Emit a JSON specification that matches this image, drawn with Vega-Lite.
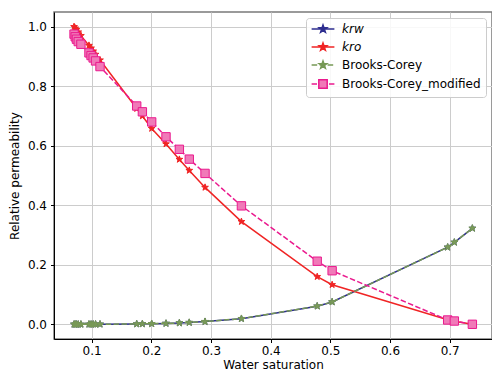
{
  "$schema": "https://vega.github.io/schema/vega-lite/v6.json",
  "autosize": "none",
  "padding": {"left": 54, "top": 12, "right": 0, "bottom": 37},
  "width": 438,
  "height": 327,
  "background": "white",
  "config": {
    "font": "DejaVu Sans",
    "view": {"stroke": "#7a7a7a", "strokeWidth": 1.5},
    "axis": {
      "domainColor": "#000000", "domainWidth": 1,
      "tickColor": "#000000", "tickSize": 3.5, "tickWidth": 1,
      "labelColor": "#000000", "labelFontSize": 12, "labelPadding": 3,
      "titleFontSize": 12, "titleFontWeight": "normal", "titleColor": "#000000",
      "gridColor": "#cccccc", "gridWidth": 1
    }
  },
  "datasets": {
    "d": [
      {"sw": 0.0705, "kr": 0, "series": "k_rw"},
      {"sw": 0.0725, "kr": 0, "series": "k_rw"},
      {"sw": 0.0745, "kr": 0, "series": "k_rw"},
      {"sw": 0.0775, "kr": 0, "series": "k_rw"},
      {"sw": 0.082, "kr": 0, "series": "k_rw"},
      {"sw": 0.0955, "kr": 0.0001, "series": "k_rw"},
      {"sw": 0.099, "kr": 0.0001, "series": "k_rw"},
      {"sw": 0.1025, "kr": 0.0002, "series": "k_rw"},
      {"sw": 0.1065, "kr": 0.0002, "series": "k_rw"},
      {"sw": 0.114, "kr": 0.0003, "series": "k_rw"},
      {"sw": 0.1755, "kr": 0.001, "series": "k_rw"},
      {"sw": 0.185, "kr": 0.0015, "series": "k_rw"},
      {"sw": 0.2006, "kr": 0.002, "series": "k_rw"},
      {"sw": 0.2246, "kr": 0.003, "series": "k_rw"},
      {"sw": 0.247, "kr": 0.0045, "series": "k_rw"},
      {"sw": 0.2636, "kr": 0.006, "series": "k_rw"},
      {"sw": 0.29, "kr": 0.009, "series": "k_rw"},
      {"sw": 0.351, "kr": 0.019, "series": "k_rw"},
      {"sw": 0.478, "kr": 0.061, "series": "k_rw"},
      {"sw": 0.503, "kr": 0.075, "series": "k_rw"},
      {"sw": 0.6966, "kr": 0.259, "series": "k_rw"},
      {"sw": 0.7078, "kr": 0.2755, "series": "k_rw"},
      {"sw": 0.738, "kr": 0.3225, "series": "k_rw"},

      {"sw": 0.0705, "kr": 1.0, "series": "k_ro"},
      {"sw": 0.0725, "kr": 0.995, "series": "k_ro"},
      {"sw": 0.0745, "kr": 0.99, "series": "k_ro"},
      {"sw": 0.0775, "kr": 0.982, "series": "k_ro"},
      {"sw": 0.082, "kr": 0.97, "series": "k_ro"},
      {"sw": 0.0955, "kr": 0.937, "series": "k_ro"},
      {"sw": 0.099, "kr": 0.928, "series": "k_ro"},
      {"sw": 0.1025, "kr": 0.918, "series": "k_ro"},
      {"sw": 0.1065, "kr": 0.907, "series": "k_ro"},
      {"sw": 0.114, "kr": 0.888, "series": "k_ro"},
      {"sw": 0.1755, "kr": 0.725, "series": "k_ro"},
      {"sw": 0.185, "kr": 0.7, "series": "k_ro"},
      {"sw": 0.2006, "kr": 0.658, "series": "k_ro"},
      {"sw": 0.2246, "kr": 0.606, "series": "k_ro"},
      {"sw": 0.247, "kr": 0.554, "series": "k_ro"},
      {"sw": 0.2636, "kr": 0.517, "series": "k_ro"},
      {"sw": 0.29, "kr": 0.46, "series": "k_ro"},
      {"sw": 0.351, "kr": 0.345, "series": "k_ro"},
      {"sw": 0.478, "kr": 0.16, "series": "k_ro"},
      {"sw": 0.503, "kr": 0.133, "series": "k_ro"},
      {"sw": 0.6966, "kr": 0.015, "series": "k_ro"},
      {"sw": 0.7078, "kr": 0.01, "series": "k_ro"},
      {"sw": 0.738, "kr": 0.0, "series": "k_ro"},

      {"sw": 0.0705, "kr": 0, "series": "Brooks-Corey"},
      {"sw": 0.0725, "kr": 0, "series": "Brooks-Corey"},
      {"sw": 0.0745, "kr": 0, "series": "Brooks-Corey"},
      {"sw": 0.0775, "kr": 0, "series": "Brooks-Corey"},
      {"sw": 0.082, "kr": 0, "series": "Brooks-Corey"},
      {"sw": 0.0955, "kr": 0.0001, "series": "Brooks-Corey"},
      {"sw": 0.099, "kr": 0.0001, "series": "Brooks-Corey"},
      {"sw": 0.1025, "kr": 0.0002, "series": "Brooks-Corey"},
      {"sw": 0.1065, "kr": 0.0002, "series": "Brooks-Corey"},
      {"sw": 0.114, "kr": 0.0003, "series": "Brooks-Corey"},
      {"sw": 0.1755, "kr": 0.001, "series": "Brooks-Corey"},
      {"sw": 0.185, "kr": 0.0015, "series": "Brooks-Corey"},
      {"sw": 0.2006, "kr": 0.002, "series": "Brooks-Corey"},
      {"sw": 0.2246, "kr": 0.003, "series": "Brooks-Corey"},
      {"sw": 0.247, "kr": 0.0045, "series": "Brooks-Corey"},
      {"sw": 0.2636, "kr": 0.006, "series": "Brooks-Corey"},
      {"sw": 0.29, "kr": 0.009, "series": "Brooks-Corey"},
      {"sw": 0.351, "kr": 0.019, "series": "Brooks-Corey"},
      {"sw": 0.478, "kr": 0.061, "series": "Brooks-Corey"},
      {"sw": 0.503, "kr": 0.075, "series": "Brooks-Corey"},
      {"sw": 0.6966, "kr": 0.259, "series": "Brooks-Corey"},
      {"sw": 0.7078, "kr": 0.2755, "series": "Brooks-Corey"},
      {"sw": 0.738, "kr": 0.3225, "series": "Brooks-Corey"},

      {"sw": 0.0705, "kr": 0.975, "series": "Brooks-Corey_modified"},
      {"sw": 0.0725, "kr": 0.966, "series": "Brooks-Corey_modified"},
      {"sw": 0.0745, "kr": 0.958, "series": "Brooks-Corey_modified"},
      {"sw": 0.0775, "kr": 0.95, "series": "Brooks-Corey_modified"},
      {"sw": 0.082, "kr": 0.941, "series": "Brooks-Corey_modified"},
      {"sw": 0.0955, "kr": 0.912, "series": "Brooks-Corey_modified"},
      {"sw": 0.099, "kr": 0.903, "series": "Brooks-Corey_modified"},
      {"sw": 0.1025, "kr": 0.895, "series": "Brooks-Corey_modified"},
      {"sw": 0.1065, "kr": 0.885, "series": "Brooks-Corey_modified"},
      {"sw": 0.114, "kr": 0.866, "series": "Brooks-Corey_modified"},
      {"sw": 0.1755, "kr": 0.7335, "series": "Brooks-Corey_modified"},
      {"sw": 0.185, "kr": 0.714, "series": "Brooks-Corey_modified"},
      {"sw": 0.2006, "kr": 0.68, "series": "Brooks-Corey_modified"},
      {"sw": 0.2246, "kr": 0.63, "series": "Brooks-Corey_modified"},
      {"sw": 0.247, "kr": 0.588, "series": "Brooks-Corey_modified"},
      {"sw": 0.2636, "kr": 0.555, "series": "Brooks-Corey_modified"},
      {"sw": 0.29, "kr": 0.507, "series": "Brooks-Corey_modified"},
      {"sw": 0.351, "kr": 0.398, "series": "Brooks-Corey_modified"},
      {"sw": 0.478, "kr": 0.212, "series": "Brooks-Corey_modified"},
      {"sw": 0.503, "kr": 0.18, "series": "Brooks-Corey_modified"},
      {"sw": 0.6966, "kr": 0.0145, "series": "Brooks-Corey_modified"},
      {"sw": 0.7078, "kr": 0.011, "series": "Brooks-Corey_modified"},
      {"sw": 0.738, "kr": 0.0, "series": "Brooks-Corey_modified"}
    ]
  },
  "data": {"name": "d"},
  "encoding": {
    "x": {
      "field": "sw", "type": "quantitative",
      "scale": {"domain": [0.0369, 0.7709], "nice": false, "zero": false},
      "axis": {"title": "Water saturation", "values": [0.1, 0.2, 0.3, 0.4, 0.5, 0.6, 0.7], "format": ".1f", "titlePadding": 3}
    },
    "y": {
      "field": "kr", "type": "quantitative",
      "scale": {"domain": [-0.0494, 1.0494], "nice": false, "zero": false},
      "axis": {"title": "Relative permeability", "values": [0, 0.2, 0.4, 0.6, 0.8, 1.0], "format": ".1f", "labelPadding": 4, "titlePadding": 6}
    },
    "stroke": {
      "field": "series", "type": "nominal",
      "scale": {"domain": ["k_rw", "k_ro", "Brooks-Corey", "Brooks-Corey_modified"], "range": ["#2d2d8f", "#f02424", "#779955", "#ea1a8e"]},
      "legend": {
        "title": null,
        "orient": "none",
        "legendX": 252,
        "legendY": 6,
        "padding": 5,
        "fillColor": "rgba(255,255,255,0.85)",
        "strokeColor": "#cccccc",
        "cornerRadius": 3,
        "symbolSize": 64,
        "symbolStrokeWidth": 1.5,
        "symbolOffset": 6,
        "labelOffset": 13,
        "rowPadding": 4,
        "labelFont": "DejaVu Sans",
        "labelFontSize": 12,
        "labelColor": "#000000",
        "labelExpr": "datum.value === 'k_rw' ? 'krw' : datum.value === 'k_ro' ? 'kro' : datum.label",
        "encode": {
          "symbols": {
            "update": {
              "shape": {"signal": "datum.value === 'Brooks-Corey_modified' ? 'M-2.85,0H-1.5M1.5,0H2.85M-1.05,-1.05H1.05V1.05H-1.05Z' : datum.value === 'Brooks-Corey' ? 'M-2.85,0H-1.45M-0.85,0H0.55M1.15,0H2.55M0,-1L0.235,-0.324L0.951,-0.309L0.38,0.124L0.588,0.809L0,0.4L-0.588,0.809L-0.38,0.124L-0.951,-0.309L-0.235,-0.324Z' : 'M-2.85,0H2.85M0,-1L0.235,-0.324L0.951,-0.309L0.38,0.124L0.588,0.809L0,0.4L-0.588,0.809L-0.38,0.124L-0.951,-0.309L-0.235,-0.324Z'"},
              "fill": {"signal": "datum.value === 'k_rw' ? '#2d2d8f' : datum.value === 'k_ro' ? '#f02424' : datum.value === 'Brooks-Corey' ? '#7a9a5a' : '#f07ab8'"},
              "stroke": {"signal": "datum.value === 'k_rw' ? '#2d2d8f' : datum.value === 'k_ro' ? '#f02424' : datum.value === 'Brooks-Corey' ? '#779955' : '#ea1a8e'"},
              "strokeWidth": {"value": 1.5},
              "opacity": {"value": 1}
            }
          },
          "labels": {
            "update": {
              "fontStyle": {"signal": "datum.value === 'k_rw' || datum.value === 'k_ro' ? 'italic' : 'normal'"}
            }
          }
        }
      }
    }
  },
  "layer": [
    {
      "transform": [{"filter": "datum.series === 'k_rw'"}],
      "mark": {"type": "line", "strokeWidth": 1.5},
      "encoding": {}
    },
    {
      "transform": [{"filter": "datum.series === 'k_rw'"}],
      "mark": {"type": "point", "filled": true, "opacity": 1, "strokeWidth": 1, "size": 50, "shape": "M0,-1L0.235,-0.324L0.951,-0.309L0.38,0.124L0.588,0.809L0,0.4L-0.588,0.809L-0.38,0.124L-0.951,-0.309L-0.235,-0.324Z", "fill": "#2d2d8f"},
      "encoding": {}
    },
    {
      "transform": [{"filter": "datum.series === 'k_ro'"}],
      "mark": {"type": "line", "strokeWidth": 1.5},
      "encoding": {}
    },
    {
      "transform": [{"filter": "datum.series === 'k_ro'"}],
      "mark": {"type": "point", "filled": true, "opacity": 1, "strokeWidth": 1, "size": 50, "shape": "M0,-1L0.235,-0.324L0.951,-0.309L0.38,0.124L0.588,0.809L0,0.4L-0.588,0.809L-0.38,0.124L-0.951,-0.309L-0.235,-0.324Z", "fill": "#f02424"},
      "encoding": {}
    },
    {
      "transform": [{"filter": "datum.series === 'Brooks-Corey'"}],
      "mark": {"type": "line", "strokeWidth": 1.5, "strokeDash": [5.5, 2.4]},
      "encoding": {}
    },
    {
      "transform": [{"filter": "datum.series === 'Brooks-Corey'"}],
      "mark": {"type": "point", "filled": true, "opacity": 1, "strokeWidth": 1, "size": 55, "shape": "M0,-1L0.235,-0.324L0.951,-0.309L0.38,0.124L0.588,0.809L0,0.4L-0.588,0.809L-0.38,0.124L-0.951,-0.309L-0.235,-0.324Z", "fill": "#7a9a5a"},
      "encoding": {}
    },
    {
      "transform": [{"filter": "datum.series === 'Brooks-Corey_modified'"}],
      "mark": {"type": "line", "strokeWidth": 1.5, "strokeDash": [5.5, 2.4]},
      "encoding": {}
    },
    {
      "transform": [{"filter": "datum.series === 'Brooks-Corey_modified'"}],
      "mark": {"type": "point", "filled": true, "opacity": 1, "strokeWidth": 1, "size": 70, "shape": "square", "fill": "#f07ab8"},
      "encoding": {}
    }
  ]
}
